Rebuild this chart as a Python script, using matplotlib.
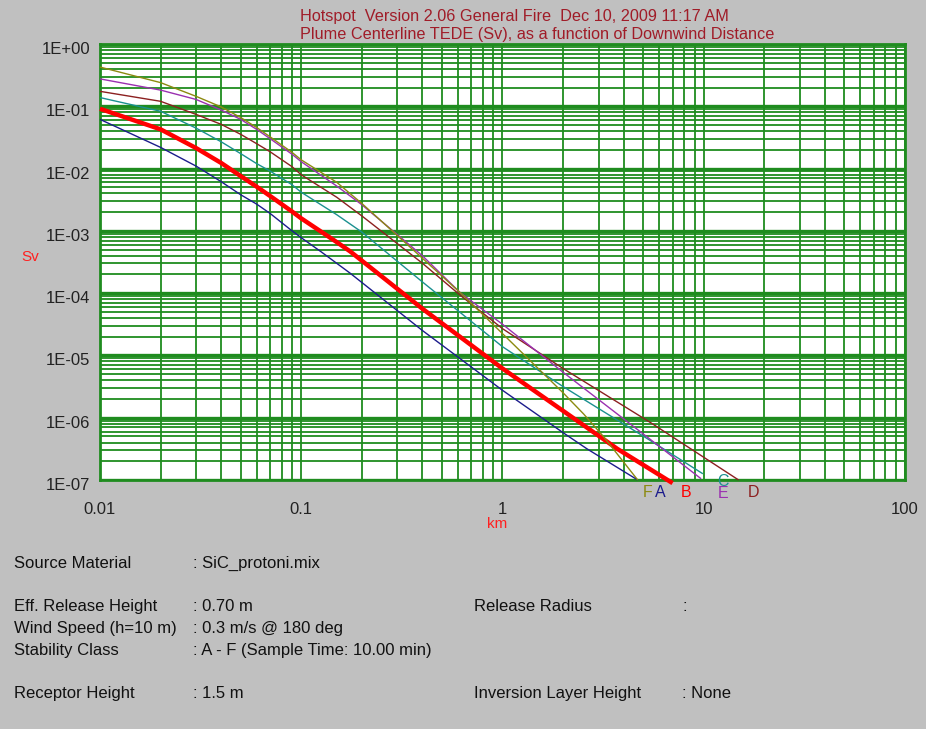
import numpy as np
import matplotlib.pyplot as plt
from matplotlib.ticker import LogLocator, FuncFormatter, NullFormatter
import matplotlib.transforms as mtransforms

plt.rcParams['font.family'] = ['Liberation Sans', 'DejaVu Sans']

# downwind distance (km) and log10 of TEDE (Sv) for each stability class
dist_A = [0.01, 0.02, 0.03, 0.04, 0.05, 0.06, 0.07, 0.09, 0.1, 0.126, 0.175, 0.4, 1.0, 2.0, 2.63, 4.7]
logd_A = [-1.21, -1.66, -1.96, -2.21, -2.42, -2.57, -2.72, -3.00, -3.11, -3.34, -3.68, -4.60, -5.56, -6.24, -6.50, -7.00]

dist_B = [0.01, 0.02, 0.03, 0.04, 0.05, 0.06, 0.07, 0.09, 0.1, 0.15, 0.175, 0.4, 1.0, 2.0, 3.72, 7.0]
logd_B = [-1.04, -1.37, -1.67, -1.91, -2.12, -2.29, -2.44, -2.69, -2.80, -3.18, -3.33, -4.25, -5.21, -5.89, -6.50, -7.05]

dist_C = [0.01, 0.02, 0.03, 0.04, 0.05, 0.06, 0.07, 0.09, 0.1, 0.15, 0.2, 0.4, 1.0, 2.0, 5.45, 9.9]
logd_C = [-0.86, -1.08, -1.35, -1.57, -1.76, -1.92, -2.04, -2.26, -2.38, -2.74, -3.02, -3.82, -4.86, -5.50, -6.37, -6.90]

dist_D = [0.01, 0.02, 0.03, 0.04, 0.05, 0.06, 0.07, 0.09, 0.1, 0.15, 0.2, 0.4, 0.62, 1.0, 2.0, 5.45, 14.9]
logd_D = [-0.76, -0.92, -1.13, -1.29, -1.45, -1.60, -1.73, -1.97, -2.10, -2.46, -2.76, -3.52, -4.04, -4.57, -5.21, -6.08, -7.00]

dist_E = [0.01, 0.02, 0.03, 0.04, 0.05, 0.06, 0.07, 0.09, 0.1, 0.15, 0.2, 0.4, 0.62, 1.0, 2.0, 5.0, 9.7]
logd_E = [-0.56, -0.74, -0.89, -1.06, -1.21, -1.37, -1.52, -1.77, -1.89, -2.28, -2.58, -3.40, -4.00, -4.50, -5.27, -6.26, -6.98]

dist_F = [0.01, 0.02, 0.03, 0.04, 0.05, 0.06, 0.07, 0.09, 0.1, 0.15, 0.2, 0.4, 0.62, 1.0, 2.0, 2.53, 3.17, 4.7]
logd_F = [-0.37, -0.62, -0.84, -1.01, -1.18, -1.34, -1.49, -1.74, -1.86, -2.22, -2.56, -3.44, -4.00, -4.65, -5.60, -5.94, -6.30, -7.00]

classes = ['A', 'B', 'C', 'D', 'E', 'F']
colors = {'A': '#1c1c8c', 'B': '#ff0000', 'C': '#1a9090', 'D': '#8c2020',
          'E': '#9a30b0', 'F': '#8c8a10'}
widths = {'A': 1.0, 'B': 3.2, 'C': 1.0, 'D': 1.0, 'E': 1.0, 'F': 1.0}
series = {'A': (dist_A, logd_A), 'B': (dist_B, logd_B), 'C': (dist_C, logd_C),
          'D': (dist_D, logd_D), 'E': (dist_E, logd_E), 'F': (dist_F, logd_F)}

# where the class letters sit under the x axis (x in km, y offset in points)
label_x = {'F': 5.28, 'A': 6.06, 'B': 8.16, 'C': 12.5, 'E': 12.5, 'D': 17.6}
label_dy = {'F': -9.0, 'A': -9.0, 'B': -9.0, 'C': -0.8, 'E': -10.0, 'D': -9.0}

xticks = [0.01, 0.1, 1, 10, 100]
xticklabels = ['0.01', '0.1', '1', '10', '100']

title_lines = ['Hotspot  Version 2.06 General Fire  Dec 10, 2009 11:17 AM',
               'Plume Centerline TEDE (Sv), as a function of Downwind Distance']

info_left = [('Source Material', ': SiC_protoni.mix', 562),
             ('Eff. Release Height', ': 0.70 m', 605),
             ('Wind Speed (h=10 m)', ': 0.3 m/s @ 180 deg', 627),
             ('Stability Class', ': A - F (Sample Time: 10.00 min)', 649),
             ('Receptor Height', ': 1.5 m', 692)]
info_right = [('Release Radius', ':', 605),
              ('Inversion Layer Height', ': None', 692)]

W, H = 926, 729
bg = '#c0c0c0'
grid_green = '#1f8c1f'

fig = plt.figure(figsize=(W / 100, H / 100), dpi=100, facecolor=bg)
ax = fig.add_axes([100 / W, 1 - 480 / H, 805 / W, 436 / H])
ax.set_facecolor('white')
ax.set_xscale('log')
ax.set_yscale('log')
ax.set_xlim(0.01, 100)
ax.set_ylim(1e-7, 1)

ax.xaxis.set_minor_locator(LogLocator(base=10, subs=np.arange(2, 10)))
ax.yaxis.set_major_locator(LogLocator(base=10, numticks=10))
ax.yaxis.set_minor_locator(LogLocator(base=10, subs=np.arange(2, 10), numticks=10))
ax.xaxis.set_minor_formatter(NullFormatter())
ax.yaxis.set_minor_formatter(NullFormatter())
ax.set_xticks(xticks)
ax.set_xticklabels(xticklabels)
ax.yaxis.set_major_formatter(FuncFormatter(lambda v, p: '1E%+03d' % int(round(np.log10(v)))))

ax.grid(which='minor', axis='both', color=grid_green, lw=1.3)
ax.grid(which='major', axis='x', color=grid_green, lw=1.3)
ax.grid(which='major', axis='y', color=grid_green, lw=2.4)
ax.set_axisbelow(True)
ax.tick_params(which='both', length=0)
ax.tick_params(axis='x', labelsize=12, pad=16, colors='#222222')
ax.tick_params(axis='y', labelsize=12, pad=7, colors='#222222')
for s in ax.spines.values():
    s.set_color(grid_green)
    s.set_linewidth(2)

# y labels sit a few pixels under their grid line
shift = mtransforms.ScaledTranslation(0, -4 / 100, fig.dpi_scale_trans)
for lab in ax.get_yticklabels():
    lab.set_transform(lab.get_transform() + shift)

for c in classes:
    xs, ly = series[c]
    ax.plot(xs, 10.0 ** np.array(ly), color=colors[c], lw=widths[c],
            solid_capstyle='butt', solid_joinstyle='round', zorder=3, clip_on=False)

trans = ax.get_xaxis_transform()
for c in classes:
    off = mtransforms.offset_copy(trans, fig=fig, x=0, y=label_dy[c], units='points')
    ax.text(label_x[c], 0, c, transform=off, color=colors[c], fontsize=11.5,
            ha='center', va='center')

fig.text(300 / W, 1 - 17 / H, title_lines[0], color='#a01c28', fontsize=11.7,
         ha='left', va='center')
fig.text(300 / W, 1 - 34 / H, title_lines[1], color='#a01c28', fontsize=11.7,
         ha='left', va='center')

fig.text(30 / W, 1 - 257 / H, 'Sv', color='#ff2020', fontsize=11, ha='center', va='center')
fig.text(497 / W, 1 - 524 / H, 'km', color='#ff2020', fontsize=11, ha='center', va='center')

for name, val, y in info_left:
    fig.text(14 / W, 1 - y / H, name, fontsize=12, color='#111111', va='center_baseline')
    fig.text(193 / W, 1 - y / H, val, fontsize=12, color='#111111', va='center_baseline')
for name, val, y in info_right:
    fig.text(474 / W, 1 - y / H, name, fontsize=12, color='#111111', va='center_baseline')
    fig.text(682 / W, 1 - y / H, val, fontsize=12, color='#111111', va='center_baseline')

fig.savefig('out.png', dpi=100, facecolor=bg)
